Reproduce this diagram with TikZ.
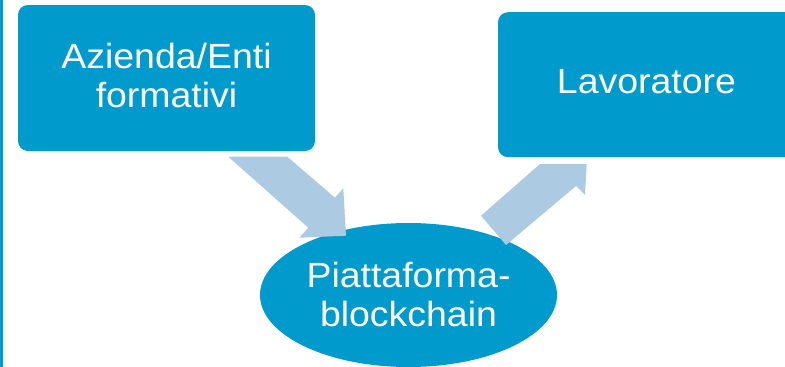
\documentclass[tikz,border=0pt]{standalone}
\usepackage{fontspec}
\setmainfont{Liberation Sans}[FakeStretch=1.07]
\usepackage{tikz}
\usetikzlibrary{shapes.geometric}
\definecolor{boxblue}{RGB}{0,154,205}
\definecolor{flowblue}{RGB}{172,202,225}
\tikzset{box/.style={rectangle, rounded corners=10pt, fill=boxblue, text=white,
    minimum width=297pt, minimum height=145pt, inner sep=0pt, align=center,
    font=\fontsize{35}{39}\selectfont},
  oval/.style={ellipse, fill=boxblue, text=white, minimum width=297pt,
    minimum height=144pt, inner sep=0pt, align=center,
    font=\fontsize{35}{39}\selectfont},
  flow/.style={fill=flowblue}}

\begin{document}
\begin{tikzpicture}[x=1pt, y=-1pt]
		\useasboundingbox (0,0) rectangle (785,367);
		\clip (0,0) rectangle (785,367);
		\fill[boxblue](0,0) rectangle (3,367);
		\node(az)[box, minimum height=146pt, text depth=4.4pt] at (166.5,78){Azienda/Enti\\formativi};
		\node(lav)[box, text depth=7.4pt] at (646.5,84.7){Lavoratore};
		\node(pb)[oval, text depth=1pt] at (408.5,295){Piattaforma-\\blockchain};
		% frecce
		\fill[flow](228.3,156.7) -- (287.3,156.7) -- (335,197.7) -- (343.3,188.3)
			-- (346,235.7) -- (299.3,237.7) -- (308.3,227.7) -- cycle;
		\fill[flow](481,215.7) -- (540,164) -- (586.7,164) -- (585,195)
			-- (576,186) -- (506,245) -- cycle;
	\end{tikzpicture}
\end{document}
